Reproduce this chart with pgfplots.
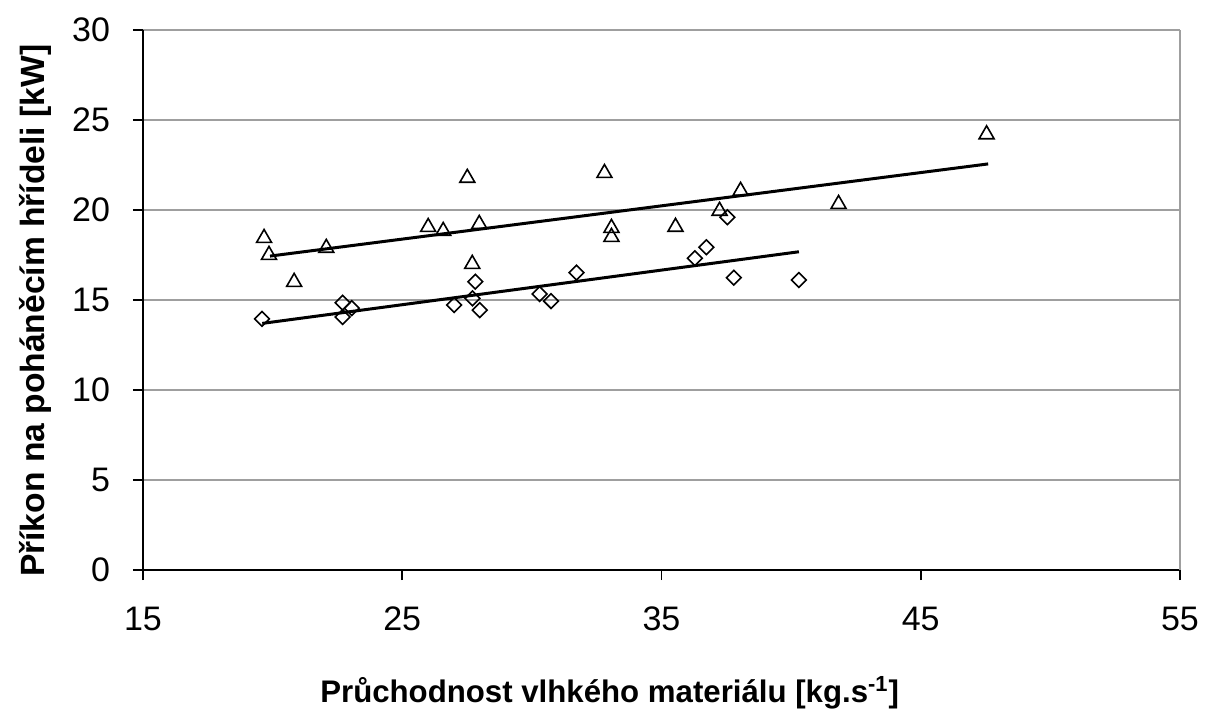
\documentclass[border=0pt]{standalone}
\usepackage{fontspec}
\setmainfont{Liberation Sans}
\usepackage{pgfplots}
\pgfplotsset{compat=1.18}
\begin{document}
\begin{tikzpicture}
\begin{axis}[
  at={(0,0)}, anchor=south west,
  scale only axis, width=518.5pt, height=270pt,
  xmin=15, xmax=55, ymin=0, ymax=30,
  xtick={15,25,35,45,55}, ytick={0,5,10,15,20,25,30},
  axis x line*=bottom, axis y line*=left,
  axis line style={black, line width=0.8pt, -},
  tick align=outside, major tick length=5pt,
  tick style={black, line width=0.8pt},
  ymajorgrids, grid style={gray!75, line width=1pt},
  /pgf/number format/assume math mode=true,
  tick label style={font=\fontsize{17}{18}\selectfont},
  xticklabel style={yshift=-10pt},
  yticklabel style={xshift=-8pt},
  xlabel={\textbf{Průchodnost vlhkého materiálu [kg.s\textsuperscript{-1}]}},
  ylabel={\textbf{Příkon na poháněcím hřídeli [kW]}},
  xlabel style={font=\fontsize{15.6}{17}\selectfont, at={(rel axis cs:0.45,0)}, anchor=center, yshift=-61.5pt},
  ylabel style={font=\fontsize{16.8}{18}\selectfont, at={(rel axis cs:0,0.48)}, anchor=center, yshift=54pt},
  clip=false,
]
\draw[gray!75, line width=1pt] (rel axis cs:1,0) -- (rel axis cs:1,1);
% triangles
\addplot[only marks, mark=triangle, mark size=4.3pt, mark options={black, line width=0.8pt, fill=white}] coordinates {
(19.67,18.44) (19.86,17.5) (20.83,16.0) (22.07,17.89) (26.0,19.05) (26.58,18.83)
(27.51,21.78) (27.70,17.0) (27.97,19.22) (32.80,22.05) (33.07,19.0) (33.07,18.5)
(35.54,19.06) (37.24,19.95) (38.05,21.06) (41.83,20.33) (47.54,24.2)
};
% diamonds
\addplot[only marks, mark=square, mark size=2.6pt, mark options={black, line width=0.8pt, fill=white, rotate=45}] coordinates {
(19.59,13.95) (22.7,14.85) (23.05,14.55) (22.7,14.06)
(27.0,14.72) (27.82,16.02) (27.71,15.09) (27.99,14.44)
(30.30,15.33) (30.74,14.94) (31.72,16.52) (36.29,17.32) (36.73,17.93)
(37.54,19.6) (37.79,16.24) (40.30,16.11)
};
% trend lines
\addplot[black, line width=1.5pt] coordinates {(19.9,17.44) (47.6,22.56)};
\addplot[black, line width=1.5pt] coordinates {(19.6,13.7) (40.3,17.68)};
\end{axis}
\path[use as bounding box] (-71.5pt,-74pt) rectangle (537pt,285pt);
\end{tikzpicture}
\end{document}
